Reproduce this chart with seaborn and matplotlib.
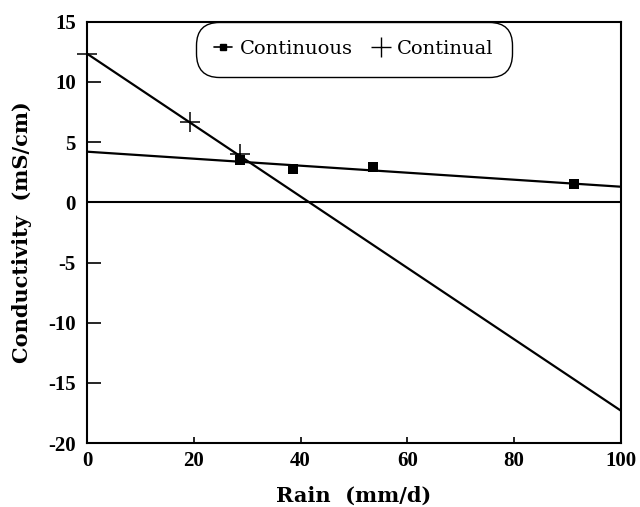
import matplotlib
matplotlib.use("Agg")
import matplotlib.pyplot as plt
from matplotlib.lines import Line2D
import seaborn as sns
import pandas as pd

# Measured conductivity against rain
continuous_rain = [28.6, 38.5, 53.6, 91.3]
continuous_cond = [3.5, 2.77, 2.96, 1.5]
continual_rain = [0.0, 19.3, 28.6]
continual_cond = [12.35, 6.65, 4.0]

# Fitted trend lines (values at rain = 0 and rain = 100)
fit_rain = [0, 100]
continuous_fit = [4.21, 1.30]
continual_fit = [12.35, -17.3]

x_ticks = [0, 20, 40, 60, 80, 100]
y_ticks = [-20, -15, -10, -5, 0, 5, 10, 15]
y_tick_labels = ["-20", "-15", "-10", "-5", "0", "5", "10", "15"]

sns.set_style("ticks")
plt.rcParams["font.family"] = ["Liberation Serif", "DejaVu Serif"]
plt.rcParams["axes.unicode_minus"] = False
for key in ["text.color", "axes.labelcolor", "xtick.color", "ytick.color",
            "axes.edgecolor"]:
    plt.rcParams[key] = "black"

fig = plt.figure(figsize=(6.4, 5.07), dpi=100)
ax = fig.add_axes([0.136, 0.126, 0.834, 0.831])

fits = pd.DataFrame({
    "rain": fit_rain * 2,
    "cond": continuous_fit + continual_fit,
    "series": ["Continuous"] * 2 + ["Continual"] * 2,
})
sns.lineplot(data=fits, x="rain", y="cond", units="series", estimator=None,
             color="black", linewidth=1.6, ax=ax, legend=False)

ax.axhline(0, color="black", linewidth=1.5, zorder=1)

sns.scatterplot(x=continuous_rain, y=continuous_cond, marker="s", s=50,
                color="black", edgecolor="black", linewidth=0, ax=ax, zorder=4,
                clip_on=False)
ax.plot(continual_rain, continual_cond, linestyle="none", marker="+",
        markersize=14, markeredgewidth=1.1, color="black", zorder=4,
        clip_on=False)

ax.set_xlim(0, 100)
ax.set_ylim(-20, 15)
ax.set_xticks(x_ticks)
ax.set_yticks(y_ticks)
ax.set_yticklabels(y_tick_labels)

for side in ["top", "right", "left", "bottom"]:
    ax.spines[side].set_visible(True)
    ax.spines[side].set_linewidth(1.5)
    ax.spines[side].set_color("black")

ax.tick_params(axis="y", direction="in", length=10, width=1.2, pad=8,
               labelsize=15, left=True, right=False, colors="black")
ax.tick_params(axis="x", direction="in", length=4, width=1.2, pad=6,
               labelsize=15, bottom=True, top=False, colors="black")
for lab in ax.get_xticklabels() + ax.get_yticklabels():
    lab.set_fontweight("bold")

label_font = {"family": "DejaVu Serif", "size": 15, "weight": "bold",
              "color": "black"}
ax.set_xlabel("Rain  (mm/d)", fontdict=label_font, labelpad=10)
ax.set_ylabel("Conductivity  (mS/cm)", fontdict=label_font, labelpad=12)

handles = [
    Line2D([], [], color="black", marker="s", markersize=5, linewidth=1.2),
    Line2D([], [], color="black", marker="+", markersize=14,
           markeredgewidth=1.0, linestyle="none"),
]
leg = ax.legend(handles, ["Continuous", "Continual"], ncol=2,
                loc="upper center", bbox_to_anchor=(0.5, 1.0),
                borderaxespad=0, frameon=True, fancybox=True,
                handlelength=0.9, handletextpad=0.4, columnspacing=1.0,
                borderpad=0.95,
                prop={"family": "DejaVu Serif", "size": 14})
frame = leg.get_frame()
frame.set_edgecolor("black")
frame.set_linewidth(1.0)
frame.set_alpha(1)
frame.set_boxstyle("round,pad=0.0,rounding_size=1.2")

fig.savefig("out.png", dpi=100)
